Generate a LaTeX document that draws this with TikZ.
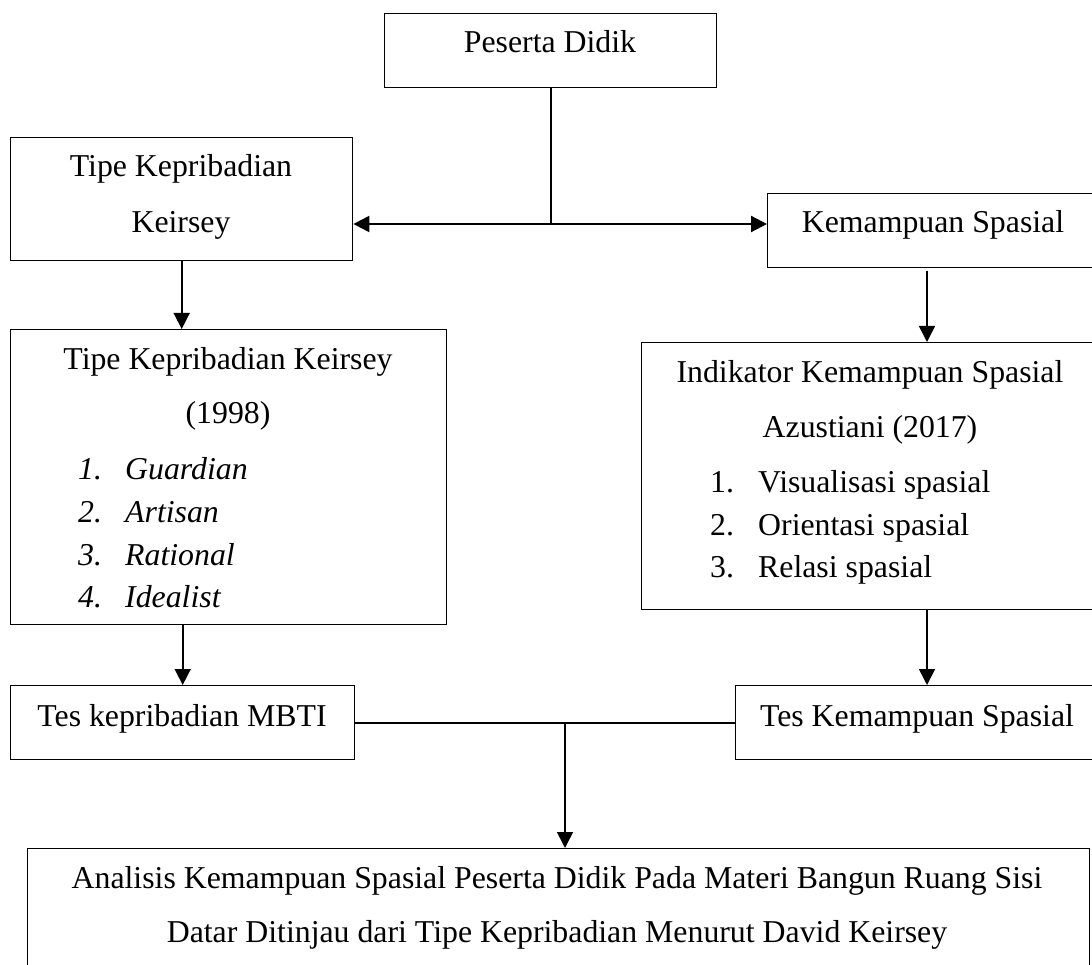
\documentclass[tikz,border=0pt]{standalone}
\usepackage{fontspec}
\setmainfont{Liberation Serif}
\usetikzlibrary{arrows.meta}
\begin{document}
\begin{tikzpicture}[x=1pt,y=-1pt,
  box/.style={draw, line width=1.4pt, inner sep=0pt, anchor=north west},
  txt/.style={anchor=base, inner sep=0pt, font=\fontsize{31.8}{38}\selectfont},
  ltxt/.style={txt, anchor=base west},
  conn/.style={line width=1.6pt},
  hconn/.style={line width=2.2pt},
  tip/.tip={Triangle[length=16pt,width=16pt]},
  arr/.style={-tip},
]
\useasboundingbox (0,0) rectangle (1092,965);
\clip (0,0) rectangle (1092,965);
% boxes
\node[box, minimum width=332pt, minimum height=74pt]  (pd)   at (384,13)  {};
\node[box, minimum width=342pt, minimum height=123pt] (tk)   at (10,137)  {};
\node[box, minimum width=332pt, minimum height=74pt]  (ks)   at (767,193) {};
\node[box, minimum width=436pt, minimum height=295pt] (tk98) at (10,329)  {};
\node[box, minimum width=458pt, minimum height=267pt] (ind)  at (641,342) {};
\node[box, minimum width=344pt, minimum height=74pt]  (mbti) at (10,685)  {};
\node[box, minimum width=364pt, minimum height=74pt]  (tks)  at (735,685) {};
\node[box, minimum width=1062pt, minimum height=140pt] (an)  at (27,848)  {};
% texts
\node[txt] (tpd)  at (550,53)  {Peserta Didik};
\node[txt] (ttk1) at (181,177) {Tipe Kepribadian};
\node[txt] (ttk2) at (181,233) {Keirsey};
\node[txt] (tks1) at (933,233) {Kemampuan Spasial};
\node[txt] (t98a) at (228,370) {Tipe Kepribadian Keirsey};
\node[txt] (t98b) at (228,423) {(1998)};
\node[ltxt] (n1) at (78,479) {\itshape 1.};
\node[ltxt] (i1) at (125,479) {\itshape Guardian};
\node[ltxt] (n2) at (78,522) {\itshape 2.};
\node[ltxt] (i2) at (125,522) {\itshape Artisan};
\node[ltxt] (n3) at (78,565) {\itshape 3.};
\node[ltxt] (i3) at (125,565) {\itshape Rational};
\node[ltxt] (n4) at (78,607) {\itshape 4.};
\node[ltxt] (i4) at (125,607) {\itshape Idealist};
\node[txt] (tin1) at (870,382) {Indikator Kemampuan Spasial};
\node[txt] (tin2) at (870,437) {Azustiani (2017)};
\node[ltxt] (m1) at (710,492) {1.};
\node[ltxt] (j1t) at (758,492) {Visualisasi spasial};
\node[ltxt] (m2) at (710,535) {2.};
\node[ltxt] (j2t) at (758,535) {Orientasi spasial};
\node[ltxt] (m3) at (710,577) {3.};
\node[ltxt] (j3t) at (758,577) {Relasi spasial};
\node[txt] (tmb)  at (182,726) {Tes kepribadian MBTI};
\node[txt] (ttks) at (917,726) {Tes Kemampuan Spasial};
\node[txt] (tan1) at (557,888) {Analisis Kemampuan Spasial Peserta Didik Pada Materi Bangun Ruang Sisi};
\node[txt] (tan2) at (557,942) {Datar Ditinjau dari Tipe Kepribadian Menurut David Keirsey};
% connectors
\coordinate (j1) at (549,224);
\draw[conn] (pd.south) -- (pd.south |- j1);
\draw[hconn, tip-tip] (tk.east |- j1) -- (ks.west |- j1);
\draw[conn, arr] (tk.south) -- (tk.south |- tk98.north);
\coordinate (k1) at (927,271);
\draw[conn, arr] (k1) -- (k1 |- ind.north);
\draw[conn, arr] (tk98.south -| mbti.north) -- (mbti.north);
\draw[conn, arr] (ind.south -| k1) -- (k1 |- tks.north);
\draw[hconn] (mbti.east) -- (tks.west);
\coordinate (j2) at (565,722);
\draw[conn, arr] (j2) -- (j2 |- an.north);
\end{tikzpicture}
\end{document}
